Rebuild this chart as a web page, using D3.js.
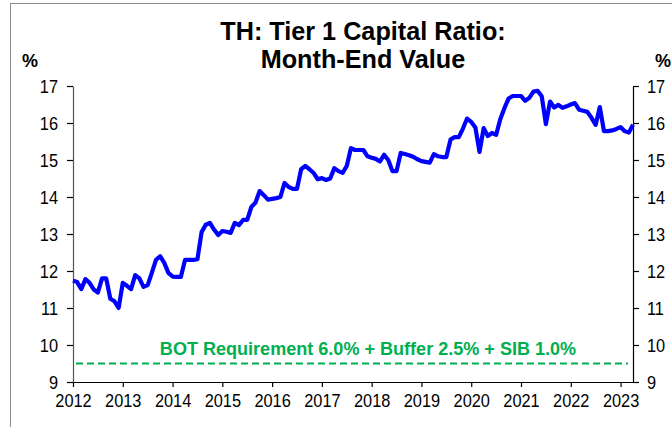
<!DOCTYPE html>
<html>
<head>
<meta charset="utf-8">
<script src="https://cdn.jsdelivr.net/npm/d3@7"></script>
<style>
  body { margin: 0; background: #fff; }
  text { font-family: "Liberation Sans", Arial, sans-serif; }
</style>
</head>
<body>
<div id="chart"></div>
<script>
// month-end values, Jan 2012 onwards (one per month)
var startYear = 2012;
var tier1 = [
  11.74, 11.70, 11.51, 11.78, 11.68, 11.50, 11.42, 11.80, 11.80, 11.25, 11.18, 11.00, // 2012
  11.68, 11.60, 11.51, 11.89, 11.80, 11.57, 11.62, 11.95, 12.30, 12.40, 12.22, 11.95, // 2013
  11.85, 11.84, 11.84, 12.30, 12.30, 12.30, 12.32, 13.05, 13.25, 13.30, 13.12, 12.97, // 2014
  13.08, 13.06, 13.03, 13.30, 13.24, 13.38, 13.38, 13.73, 13.85, 14.16, 14.05, 13.93, // 2015
  13.95, 13.97, 14.00, 14.38, 14.27, 14.22, 14.22, 14.75, 14.84, 14.75, 14.65, 14.48, // 2016
  14.51, 14.46, 14.50, 14.78, 14.70, 14.65, 14.84, 15.32, 15.27, 15.27, 15.27, 15.10, // 2017
  15.06, 15.03, 14.96, 15.14, 15.00, 14.70, 14.70, 15.19, 15.16, 15.13, 15.09, 15.02, // 2018
  14.97, 14.95, 14.93, 15.16, 15.10, 15.08, 15.08, 15.55, 15.62, 15.62, 15.85, 16.12, // 2019
  16.03, 15.88, 15.22, 15.86, 15.65, 15.73, 15.68, 16.10, 16.40, 16.66, 16.73, 16.73, // 2020
  16.73, 16.60, 16.68, 16.85, 16.87, 16.72, 15.97, 16.58, 16.42, 16.49, 16.41, 16.45, // 2021
  16.50, 16.54, 16.36, 16.33, 16.30, 16.14, 15.95, 16.43, 15.78, 15.78, 15.80, 15.84, // 2022
  15.89, 15.78, 15.74, 15.95                                                          // 2023
];
var yearTicks = [2012, 2013, 2014, 2015, 2016, 2017, 2018, 2019, 2020, 2021, 2022, 2023];
var yTicks = [9, 10, 11, 12, 13, 14, 15, 16, 17];
var requirement = 9.5;
var requirementLabel = "BOT Requirement 6.0% + Buffer 2.5% + SIB 1.0%";
var titleLines = ["TH: Tier 1 Capital Ratio:", "Month-End Value"];

var W = 672, H = 427;
var margin = {top: 86, right: 39, bottom: 45, left: 73},
    width = W - margin.left - margin.right,
    height = H - margin.top - margin.bottom;

var svg = d3.select("#chart").append("svg")
    .attr("width", W)
    .attr("height", H);

// squeeze text a little sideways (the original font is narrow-ish)
function condense(sel, k) {
  sel.each(function() {
    var l = this.getComputedTextLength();
    d3.select(this).attr("textLength", l * k).attr("lengthAdjust", "spacingAndGlyphs");
  });
}

// outer frame
svg.append("rect")
    .attr("x", 10.5).attr("y", 3.5)
    .attr("width", 700).attr("height", 500)
    .attr("fill", "none")
    .attr("stroke", "#8c8c8c");

// title
svg.selectAll(".title")
  .data(titleLines)
  .enter().append("text")
    .attr("class", "title")
    .attr("x", 363)
    .attr("y", function(d, i) { return 40 + i * 28; })
    .attr("text-anchor", "middle")
    .style("font-size", "26px")
    .style("font-weight", "bold")
    .text(function(d) { return d; })
    .call(condense, 0.97);

svg.append("text").attr("x", 30).attr("y", 67).attr("text-anchor", "middle")
    .style("font-size", "18px").style("font-weight", "bold").text("%");
svg.append("text").attr("x", 663).attr("y", 67).attr("text-anchor", "middle")
    .style("font-size", "18px").style("font-weight", "bold").text("%");

var g = svg.append("g")
    .attr("transform", "translate(" + margin.left + "," + margin.top + ")");

// x in months since Jan 2012
var x = d3.scaleLinear()
    .domain([0, tier1.length - 1])
    .range([0, width]);

var y = d3.scaleLinear()
    .domain([9, 17])
    .range([height, 0]);

var xAxis = g.append("g")
    .attr("transform", "translate(0," + height + ")")
    .call(d3.axisBottom(x)
      .tickValues(yearTicks.map(function(yr) { return (yr - startYear) * 12; }))
      .tickFormat(function(d) { return startYear + d / 12; })
      .tickSizeInner(5).tickSizeOuter(0).tickPadding(7));

var leftAxis = g.append("g")
    .call(d3.axisLeft(y).tickValues(yTicks).tickFormat(d3.format("d"))
      .tickSizeInner(6).tickSizeOuter(0).tickPadding(9));

var rightAxis = g.append("g")
    .attr("transform", "translate(" + width + ",0)")
    .call(d3.axisRight(y).tickValues(yTicks).tickFormat(d3.format("d"))
      .tickSizeInner(6).tickSizeOuter(0).tickPadding(8));

[xAxis, leftAxis, rightAxis].forEach(function(a) {
  a.selectAll("text")
    .style("font-family", "'Liberation Sans', Arial, sans-serif")
    .style("font-size", "19px")
    .attr("fill", "#000")
    .call(condense, 0.86);
  a.selectAll("line, path").attr("stroke", "#000").attr("stroke-width", 1.2);
});
leftAxis.select(".domain").attr("stroke", "#555");

// requirement line
g.append("line")
    .attr("x1", x(0) + 3).attr("x2", width - 5)
    .attr("y1", y(requirement)).attr("y2", y(requirement))
    .attr("stroke", "#00B050")
    .attr("stroke-width", 2.2)
    .attr("stroke-dasharray", "7,4");

g.append("text")
    .attr("x", 295)
    .attr("y", y(requirement) - 9)
    .attr("text-anchor", "middle")
    .attr("fill", "#00B050")
    .style("font-size", "19px")
    .style("font-weight", "bold")
    .text(requirementLabel)
    .call(condense, 0.95);

// main line
g.append("path")
    .datum(tier1)
    .attr("d", d3.line()
      .x(function(d, i) { return x(i); })
      .y(function(d) { return y(d); }))
    .attr("fill", "none")
    .attr("stroke", "#0000FF")
    .attr("stroke-width", 4.2)
    .attr("stroke-linejoin", "round");
</script>
</body>
</html>
